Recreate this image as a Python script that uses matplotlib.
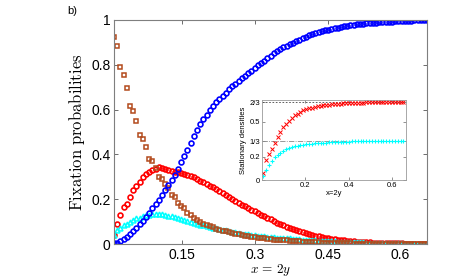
import numpy as np
import matplotlib
matplotlib.use('Agg')
import matplotlib.pyplot as plt

plt.rcParams['mathtext.fontset'] = 'cm'
plt.rcParams['font.family'] = ['Liberation Sans', 'DejaVu Sans']

# sampling grid of the simulation (main panel and inset)
x = np.round(0.0087 + 0.0066 * np.arange(99), 4)
x_ins = np.round(0.0066 + 0.0132 * np.arange(50), 4)

# fixation probabilities
blue = [0.003, 0.006, 0.015, 0.022, 0.031, 0.043, 0.057, 0.072, 0.088, 0.101,
        0.119, 0.138, 0.160, 0.179, 0.198, 0.218, 0.240, 0.262, 0.284, 0.307,
        0.337, 0.366, 0.392, 0.418, 0.452, 0.480, 0.507, 0.535, 0.560, 0.578,
        0.597, 0.616, 0.632, 0.647, 0.662, 0.676, 0.690, 0.704, 0.716, 0.728,
        0.741, 0.752, 0.763, 0.774, 0.786, 0.797, 0.808, 0.818, 0.829, 0.840,
        0.851, 0.862, 0.871, 0.878, 0.885, 0.892, 0.899, 0.905, 0.912, 0.918,
        0.925, 0.931, 0.938, 0.942, 0.946, 0.950, 0.954, 0.957, 0.960, 0.963,
        0.966, 0.969, 0.971, 0.973, 0.976, 0.978, 0.980, 0.982, 0.984, 0.985,
        0.986, 0.987, 0.988, 0.989, 0.990, 0.991, 0.992, 0.993, 0.994, 0.995,
        0.996, 0.996, 0.997, 0.997, 0.998, 0.998, 0.999, 0.999, 1.000]

orange = [0.922, 0.885, 0.790, 0.754, 0.696, 0.616, 0.593, 0.549, 0.487, 0.469,
          0.432, 0.381, 0.370, 0.341, 0.300, 0.288, 0.270, 0.248, 0.218, 0.211,
          0.185, 0.170, 0.159, 0.137, 0.130, 0.115, 0.107, 0.099, 0.091, 0.086,
          0.080, 0.075, 0.068, 0.063, 0.060, 0.057, 0.053, 0.049, 0.046, 0.043,
          0.040, 0.038, 0.035, 0.033, 0.031, 0.029, 0.027, 0.025, 0.023, 0.022,
          0.020, 0.019, 0.018, 0.017, 0.016, 0.015, 0.014, 0.013, 0.012, 0.011,
          0.010, 0.009, 0.008, 0.008, 0.007, 0.006, 0.006, 0.005, 0.005, 0.004,
          0.004, 0.004, 0.003, 0.003, 0.003, 0.002, 0.002, 0.002, 0.002, 0.002,
          0.001, 0.001, 0.001, 0.001, 0.001, 0.001, 0.001, 0.001, 0.001, 0.001,
          0.001, 0.001, 0.001, 0.001, 0.001, 0.001, 0.001, 0.001, 0.001]

red = [0.040, 0.090, 0.130, 0.165, 0.178, 0.210, 0.242, 0.258, 0.279, 0.297,
       0.311, 0.322, 0.330, 0.337, 0.343, 0.340, 0.336, 0.330, 0.325, 0.322,
       0.320, 0.316, 0.312, 0.307, 0.302, 0.297, 0.289, 0.282, 0.275, 0.267,
       0.261, 0.254, 0.246, 0.238, 0.228, 0.217, 0.208, 0.200, 0.192, 0.184,
       0.176, 0.168, 0.161, 0.153, 0.146, 0.139, 0.131, 0.124, 0.117, 0.110,
       0.103, 0.096, 0.090, 0.084, 0.078, 0.072, 0.067, 0.062, 0.057, 0.053,
       0.048, 0.044, 0.041, 0.037, 0.034, 0.031, 0.029, 0.026, 0.024, 0.022,
       0.020, 0.018, 0.016, 0.015, 0.013, 0.012, 0.011, 0.010, 0.009, 0.008,
       0.007, 0.0065, 0.006, 0.0055, 0.005, 0.0045, 0.004, 0.0035, 0.003, 0.003,
       0.0025, 0.002, 0.002, 0.002, 0.0015, 0.0015, 0.001, 0.001, 0.001]

cyan = [0.040, 0.062, 0.072, 0.085, 0.090, 0.100, 0.106, 0.114, 0.118, 0.124,
        0.128, 0.131, 0.133, 0.134, 0.135, 0.133, 0.130, 0.127, 0.123, 0.119,
        0.116, 0.111, 0.107, 0.103, 0.100, 0.095, 0.091, 0.087, 0.083, 0.080,
        0.077, 0.073, 0.070, 0.067, 0.064, 0.061, 0.058, 0.055, 0.052, 0.050,
        0.047, 0.045, 0.043, 0.041, 0.039, 0.037, 0.036, 0.034, 0.033, 0.032,
        0.030, 0.029, 0.028, 0.027, 0.026, 0.025, 0.024, 0.023, 0.021, 0.020,
        0.019, 0.018, 0.017, 0.016, 0.015, 0.015, 0.014, 0.013, 0.013, 0.012,
        0.011, 0.011, 0.010, 0.009, 0.009, 0.008, 0.008, 0.007, 0.007, 0.006,
        0.006, 0.005, 0.005, 0.005, 0.004, 0.004, 0.004, 0.003, 0.003, 0.003,
        0.003, 0.002, 0.002, 0.002, 0.002, 0.002, 0.001, 0.001, 0.001]

# stationary densities (inset)
ins_red = [0.060, 0.170, 0.220, 0.265, 0.320, 0.370, 0.415, 0.450, 0.480, 0.505,
           0.535, 0.553, 0.568, 0.585, 0.596, 0.605, 0.613, 0.620, 0.627, 0.632,
           0.636, 0.640, 0.643, 0.646, 0.649, 0.651, 0.653, 0.655, 0.657, 0.658,
           0.659, 0.660, 0.661, 0.662, 0.663, 0.663, 0.664, 0.664, 0.665, 0.665,
           0.665, 0.666, 0.666, 0.666, 0.666, 0.666, 0.666, 0.666, 0.666, 0.666]
ins_cyan = [0.035, 0.090, 0.130, 0.165, 0.195, 0.215, 0.235, 0.250, 0.262, 0.272,
            0.282, 0.288, 0.294, 0.299, 0.303, 0.306, 0.309, 0.312, 0.314, 0.316,
            0.318, 0.320, 0.321, 0.323, 0.324, 0.325, 0.326, 0.327, 0.328, 0.329,
            0.329, 0.330, 0.330, 0.331, 0.331, 0.332, 0.332, 0.332, 0.332, 0.333,
            0.333, 0.333, 0.333, 0.333, 0.333, 0.333, 0.333, 0.333, 0.333, 0.333]

main_xticks = [0.15, 0.3, 0.45, 0.6]
main_yticks = [0, 0.2, 0.4, 0.6, 0.8, 1]
main_ylabels = ['0', '0.2', '0.4', '0.6', '0.8', '1']
ins_xticks = [0.2, 0.4, 0.6]
ins_yticks = [0, 0.2, 1/3, 0.5, 2/3]
ins_ylabels = ['0', '0.2', '1/3', '0.5', '2/3']

fig = plt.figure(figsize=(4.71, 2.77), dpi=100)
ax = fig.add_axes([0.242, 0.119, 0.665, 0.809])

ax.plot(x, red, ls='none', marker='o', ms=3.5, mfc='none', mec='red', mew=1.2)
ax.plot(x, cyan, ls='none', marker='^', ms=3.5, mfc='none', mec='cyan', mew=1.1)
ax.plot(x, orange, ls='none', marker='s', ms=3.3, mfc='none', mec='#b34a1c', mew=1.1)
ax.plot(x, blue, ls='none', marker='o', ms=3.5, mfc='none', mec='blue', mew=1.2)

ax.set_xlim(0.0087, 0.6555)
ax.set_ylim(0, 1)
ax.set_xticks(main_xticks)
ax.set_xticklabels(['0.15', '0.3', '0.45', '0.6'])
ax.set_yticks(main_yticks)
ax.set_yticklabels(main_ylabels)
ax.tick_params(direction='in', length=3, width=0.6, top=True, right=True,
               labelsize=10, pad=2.5, color='#555555')
for s in ax.spines.values():
    s.set_color('#7f7f7f')
    s.set_linewidth(0.8)

ax.set_xlabel(r'$x\,=\,2y$', fontsize=9.5, va='top')
ax.xaxis.set_label_coords(0.5, -0.08)
ax.set_ylabel(r'$\mathrm{Fixation\ probabilities}$', fontsize=12, labelpad=3)
fig.text(0.142, 0.96, 'b)', fontsize=8, ha='left', va='center')

# inset
ins = fig.add_axes([0.556, 0.350, 0.306, 0.289])
ins.axhline(2/3, color='#444444', ls='--', lw=0.6, dashes=(2, 2))
ins.axhline(1/3, color='#888888', ls='-.', lw=0.6)
ins.plot(x_ins, ins_red, ls='none', marker='x', ms=2.3, mec='red', mew=0.7)
ins.plot(x_ins, ins_cyan, ls='none', marker='+', ms=2.8, mec='cyan', mew=0.8)
ins.set_xlim(0, 0.665)
ins.set_ylim(0, 0.685)
ins.set_xticks(ins_xticks)
ins.set_xticklabels(['0.2', '0.4', '0.6'])
ins.set_yticks(ins_yticks)
ins.set_yticklabels(ins_ylabels)
ins.tick_params(direction='in', length=2, width=0.5, top=True, right=True,
                labelsize=5.5, pad=1.5, color='#666666')
for s in ins.spines.values():
    s.set_color('#9a9a9a')
    s.set_linewidth(0.6)
ins.set_xlabel('x=2y', fontsize=5.5, labelpad=0.5)
ins.set_ylabel('Stationary densities', fontsize=5.5, labelpad=1.5)

fig.savefig('out.png', dpi=100)
